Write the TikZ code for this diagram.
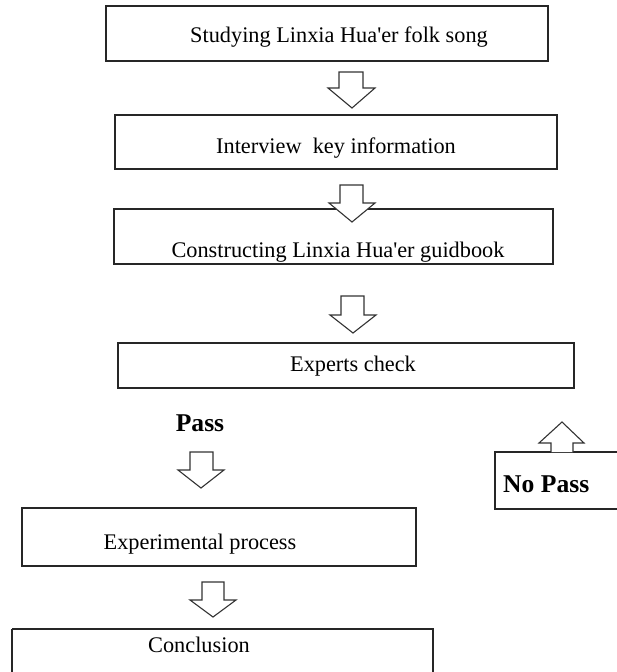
\documentclass[tikz,border=0pt]{standalone}
\usepackage{fontspec}
\setmainfont{Liberation Serif}
\begin{document}
\begin{tikzpicture}[x=1pt,y=-1pt,
  boxline/.style={draw=black!85, line width=1.1pt},
  blockarrow/.style={draw=black!80, line width=1.1pt, fill=white, line join=miter},
  lbl/.style={anchor=base, inner sep=0pt, font=\fontsize{22.3}{26}\selectfont},
  boldlbl/.style={anchor=base, inner sep=0pt, font=\fontsize{25.6}{30}\selectfont\bfseries}]
\useasboundingbox (0,0) rectangle (617,672);
% boxes
\draw[boxline] (106,6) rectangle (548,61);
\draw[boxline] (115,115) rectangle (557,169);
\draw[boxline] (114,209) rectangle (553,264);
\draw[boxline] (118,343) rectangle (574,388);
\draw[boxline] (22,508) rectangle (416,566);
\draw[boxline] (12,629) -- (12,680) (12,629) -- (433,629) -- (433,680);
\draw[boxline] (625,452) -- (495,452) -- (495,509) -- (625,509);
% labels
\node[lbl] (t1) at (339,42) {Studying Linxia Hua\textquotesingle er folk song};
\node[lbl] (t2) at (336,153) {Interview\ \ key information};
\node[lbl] (t3) at (338,257) {Constructing Linxia Hua\textquotesingle er guidbook};
\node[lbl] (t4) at (353,371) {Experts check};
\node[boldlbl] (pass) at (200,431) {Pass};
\node[lbl] (t5) at (200,549) {Experimental process};
\node[lbl] (t6) at (199,652) {Conclusion};
\node[boldlbl, anchor=base west] (nopass) at (503,492) {No Pass};
% block arrows (down)
\newcommand{\downarrowblk}[8]{%
  \draw[blockarrow] (#1,#3) -- (#2,#3) -- (#2,#4) -- (#6,#4) -- (#7,#8) -- (#5,#4) -- (#1,#4) -- cycle;}
% args: shaftL shaftR shaftTop headBase headL headR tipX tipY
\downarrowblk{339}{363}{72}{88}{328}{375}{352}{108}
\downarrowblk{340}{363}{185}{203}{329}{375}{352}{222}
\downarrowblk{341}{364}{296}{315}{330}{376}{353}{333}
\downarrowblk{190}{213}{452}{470}{178}{224}{201}{488}
\downarrowblk{202}{224}{582}{600}{190}{236}{213}{617}
% up arrow for No Pass
\draw[blockarrow] (551,452) -- (551,443) -- (539,443) -- (562,422) -- (584,443) -- (573,443) -- (573,452);
\end{tikzpicture}
\end{document}
